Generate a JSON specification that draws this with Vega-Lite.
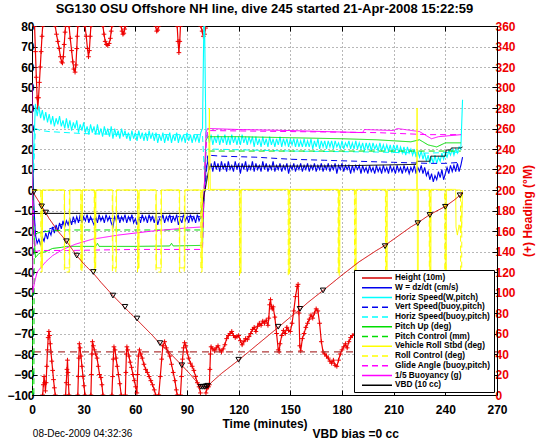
{
"$schema":"https://vega.github.io/schema/vega-lite/v6.json",
"width":465,"height":369,
"autosize":{"type":"none"},
"padding":{"left":32,"top":26,"right":49,"bottom":47},
"background":"white",
"title":{"text":"SG130 OSU Offshore NH line, dive 245 started 21-Apr-2008 15:22:59","font":"Liberation Sans","fontSize":13,"fontWeight":"bold","color":"black","anchor":"middle","offset":4},
"config":{"font":"Liberation Sans","view":{"stroke":"black","strokeWidth":1},
 "axis":{"labelFont":"Liberation Sans","labelFontSize":12,"labelFontWeight":"bold","labelColor":"black","titleFont":"Liberation Sans","titleFontSize":12,"titleFontWeight":"bold","titleColor":"black","tickColor":"black","domainColor":"black","gridColor":"#333333","gridDash":[1,3],"gridOpacity":0.7,"labelFlush":false,"labelOverlap":false}},
"datasets":{
"noisy":[
{"t":0,"W":34,"HW":0},{"t":1,"W":-6,"HW":20},{"t":2,"W":-22,"HW":42},{"t":3,"W":-26,"HW":36},{"t":4,"W":-24,"HW":41},{"t":5,"W":-27,"HW":35},{"t":6,"W":-23,"HW":39},{"t":7,"W":-25,"HW":34},{"t":8,"W":-21,"HW":38},{"t":9,"W":-24,"HW":33},
{"t":10,"W":-20,"HW":37},{"t":11,"W":-22,"HW":32},{"t":12,"W":-18,"HW":36},{"t":13,"W":-21,"HW":31},{"t":14,"W":-17,"HW":35},{"t":15,"W":-20,"HW":32},{"t":16,"W":-16,"HW":36},{"t":17,"W":-19,"HW":31},{"t":18,"W":-15,"HW":34},{"t":19,"W":-18,"HW":30},
{"t":20,"W":-15,"HW":35},{"t":21,"W":-17,"HW":30},{"t":22,"W":-14,"HW":34},{"t":23,"W":-17,"HW":29},{"t":24,"W":-13,"HW":33},{"t":25,"W":-16,"HW":30},{"t":26,"W":-13,"HW":34},{"t":27,"W":-16,"HW":28},{"t":28,"W":-12,"HW":32},{"t":29,"W":-16,"HW":29},
{"t":30,"W":-13,"HW":33},{"t":31,"W":-15,"HW":28},{"t":32,"W":-12,"HW":31},{"t":33,"W":-16,"HW":27},{"t":34,"W":-13,"HW":32},{"t":35,"W":-15,"HW":28},{"t":36,"W":-17,"HW":31},{"t":37,"W":-13,"HW":27},{"t":38,"W":-16,"HW":32},{"t":39,"W":-12,"HW":27},
{"t":40,"W":-15,"HW":30},{"t":41,"W":-13,"HW":26},{"t":42,"W":-16,"HW":31},{"t":43,"W":-12,"HW":27},{"t":44,"W":-15,"HW":30},{"t":45,"W":-13,"HW":26},{"t":46,"W":-16,"HW":31},{"t":47,"W":-18,"HW":25},{"t":48,"W":-13,"HW":30},{"t":49,"W":-15,"HW":26},
{"t":50,"W":-12,"HW":29},{"t":51,"W":-16,"HW":25},{"t":52,"W":-13,"HW":30},{"t":53,"W":-15,"HW":26},{"t":54,"W":-12,"HW":29},{"t":55,"W":-16,"HW":25},{"t":56,"W":-13,"HW":28},{"t":57,"W":-15,"HW":24},{"t":58,"W":-12,"HW":29},{"t":59,"W":-16,"HW":25},
{"t":60,"W":-14,"HW":28},{"t":61,"W":-17,"HW":24},{"t":62,"W":-13,"HW":29},{"t":63,"W":-16,"HW":25},{"t":64,"W":-12,"HW":28},{"t":65,"W":-15,"HW":24},{"t":66,"W":-13,"HW":28},{"t":67,"W":-16,"HW":24},{"t":68,"W":-12,"HW":29},{"t":69,"W":-15,"HW":25},
{"t":70,"W":-13,"HW":28},{"t":71,"W":-16,"HW":24},{"t":72,"W":-12,"HW":28},{"t":73,"W":-17,"HW":23},{"t":74,"W":-14,"HW":27},{"t":75,"W":-15,"HW":24},{"t":76,"W":-12,"HW":28},{"t":77,"W":-16,"HW":23},{"t":78,"W":-13,"HW":27},{"t":79,"W":-15,"HW":24},
{"t":80,"W":-12,"HW":28},{"t":81,"W":-16,"HW":23},{"t":82,"W":-13,"HW":27},{"t":83,"W":-15,"HW":24},{"t":84,"W":-12,"HW":28},{"t":85,"W":-17,"HW":23},{"t":86,"W":-14,"HW":27},{"t":87,"W":-16,"HW":24},{"t":88,"W":-12,"HW":27},{"t":89,"W":-15,"HW":23},
{"t":90,"W":-13,"HW":28},{"t":91,"W":-16,"HW":24},{"t":92,"W":-12,"HW":27},{"t":93,"W":-15,"HW":23},{"t":94,"W":-13,"HW":27},{"t":95,"W":-16,"HW":24},{"t":96,"W":-12,"HW":27},{"t":97,"W":-15,"HW":23},{"t":98,"W":-13,"HW":28},{"t":99,"W":-14,"HW":30},
{"t":100,"W":-2,"HW":95},{"t":101,"W":10,"HW":26},{"t":102,"W":14,"HW":27},{"t":103,"W":10,"HW":23},{"t":104,"W":13,"HW":27},{"t":105,"W":9,"HW":22},{"t":106,"W":14,"HW":26},{"t":107,"W":10,"HW":23},{"t":108,"W":13,"HW":27},{"t":109,"W":9,"HW":22},
{"t":110,"W":14,"HW":26},{"t":111,"W":10,"HW":23},{"t":112,"W":13,"HW":27},{"t":113,"W":9,"HW":22},{"t":114,"W":14,"HW":26},{"t":115,"W":10,"HW":22},{"t":116,"W":12,"HW":27},{"t":117,"W":9,"HW":23},{"t":118,"W":14,"HW":26},{"t":119,"W":10,"HW":22},
{"t":120,"W":13,"HW":26},{"t":121,"W":8,"HW":22},{"t":122,"W":13,"HW":27},{"t":123,"W":10,"HW":23},{"t":124,"W":14,"HW":26},{"t":125,"W":9,"HW":22},{"t":126,"W":12,"HW":26},{"t":127,"W":10,"HW":23},{"t":128,"W":14,"HW":26},{"t":129,"W":9,"HW":21},
{"t":130,"W":13,"HW":26},{"t":131,"W":10,"HW":22},{"t":132,"W":12,"HW":25},{"t":133,"W":9,"HW":21},{"t":134,"W":14,"HW":26},{"t":135,"W":10,"HW":22},{"t":136,"W":13,"HW":25},{"t":137,"W":9,"HW":21},{"t":138,"W":12,"HW":26},{"t":139,"W":10,"HW":22},
{"t":140,"W":14,"HW":25},{"t":141,"W":9,"HW":21},{"t":142,"W":12,"HW":25},{"t":143,"W":10,"HW":22},{"t":144,"W":13,"HW":26},{"t":145,"W":9,"HW":21},{"t":146,"W":12,"HW":25},{"t":147,"W":10,"HW":22},{"t":148,"W":13,"HW":25},{"t":149,"W":8,"HW":21},
{"t":150,"W":12,"HW":25},{"t":151,"W":10,"HW":22},{"t":152,"W":13,"HW":25},{"t":153,"W":9,"HW":21},{"t":154,"W":12,"HW":25},{"t":155,"W":10,"HW":21},{"t":156,"W":13,"HW":24},{"t":157,"W":9,"HW":21},{"t":158,"W":12,"HW":25},{"t":159,"W":10,"HW":21},
{"t":160,"W":13,"HW":24},{"t":161,"W":9,"HW":21},{"t":162,"W":12,"HW":25},{"t":163,"W":10,"HW":20},{"t":164,"W":13,"HW":24},{"t":165,"W":9,"HW":21},{"t":166,"W":12,"HW":25},{"t":167,"W":10,"HW":20},{"t":168,"W":13,"HW":24},{"t":169,"W":9,"HW":21},
{"t":170,"W":12,"HW":24},{"t":171,"W":10,"HW":20},{"t":172,"W":13,"HW":24},{"t":173,"W":9,"HW":21},{"t":174,"W":12,"HW":24},{"t":175,"W":10,"HW":20},{"t":176,"W":13,"HW":24},{"t":177,"W":8,"HW":21},{"t":178,"W":12,"HW":23},{"t":179,"W":10,"HW":20},
{"t":180,"W":13,"HW":24},{"t":181,"W":9,"HW":20},{"t":182,"W":12,"HW":23},{"t":183,"W":10,"HW":21},{"t":184,"W":12,"HW":24},{"t":185,"W":8,"HW":20},{"t":186,"W":12,"HW":23},{"t":187,"W":9,"HW":20},{"t":188,"W":12,"HW":24},{"t":189,"W":10,"HW":20},
{"t":190,"W":12,"HW":23},{"t":191,"W":8,"HW":20},{"t":192,"W":12,"HW":23},{"t":193,"W":9,"HW":19},{"t":194,"W":11,"HW":23},{"t":195,"W":8,"HW":20},{"t":196,"W":12,"HW":23},{"t":197,"W":9,"HW":19},{"t":198,"W":11,"HW":23},{"t":199,"W":8,"HW":20},
{"t":200,"W":12,"HW":22},{"t":201,"W":9,"HW":19},{"t":202,"W":11,"HW":23},{"t":203,"W":8,"HW":19},{"t":204,"W":12,"HW":22},{"t":205,"W":9,"HW":19},{"t":206,"W":11,"HW":22},{"t":207,"W":8,"HW":19},{"t":208,"W":12,"HW":22},{"t":209,"W":9,"HW":18},
{"t":210,"W":11,"HW":22},{"t":211,"W":8,"HW":19},{"t":212,"W":12,"HW":22},{"t":213,"W":9,"HW":18},{"t":214,"W":11,"HW":21},{"t":215,"W":8,"HW":18},{"t":216,"W":12,"HW":21},{"t":217,"W":9,"HW":17},{"t":218,"W":11,"HW":21},{"t":219,"W":8,"HW":18},
{"t":220,"W":11,"HW":20},{"t":221,"W":9,"HW":17},{"t":222,"W":12,"HW":20},{"t":223,"W":8,"HW":16},{"t":224,"W":11,"HW":19},{"t":225,"W":9,"HW":16},{"t":226,"W":12,"HW":19},{"t":227,"W":8,"HW":15},{"t":228,"W":11,"HW":18},{"t":229,"W":7,"HW":14},
{"t":230,"W":9,"HW":17},{"t":231,"W":5,"HW":13},{"t":232,"W":8,"HW":16},{"t":233,"W":4,"HW":13},{"t":234,"W":7,"HW":17},{"t":235,"W":5,"HW":13},{"t":236,"W":9,"HW":16},{"t":237,"W":6,"HW":14},{"t":238,"W":10,"HW":18},{"t":239,"W":5,"HW":15},
{"t":240,"W":8,"HW":18},{"t":241,"W":11,"HW":16},{"t":242,"W":8,"HW":19},{"t":243,"W":12,"HW":17},{"t":244,"W":9,"HW":20},{"t":245,"W":12,"HW":17},{"t":246,"W":9,"HW":20},{"t":247,"W":13,"HW":18},{"t":248,"W":9,"HW":21},{"t":249,"W":12,"HW":20},
{"t":250,"W":16,"HW":44}
],
"smooth":[
{"s":"VB","t":0.5,"v":-5},{"s":"VB","t":2,"v":-22},{"s":"VB","t":5,"v":-21},{"s":"VB","t":10,"v":-19},{"s":"VB","t":15,"v":-17.5},{"s":"VB","t":20,"v":-16},{"s":"VB","t":30,"v":-14.5},{"s":"VB","t":40,"v":-14},{"s":"VB","t":60,"v":-13.5},{"s":"VB","t":80,"v":-13},{"s":"VB","t":99,"v":-13},{"s":"VB","t":101,"v":5},{"s":"VB","t":102,"v":17},{"s":"VB","t":110,"v":16.5},{"s":"VB","t":130,"v":16},{"s":"VB","t":150,"v":15},{"s":"VB","t":170,"v":14.5},{"s":"VB","t":190,"v":14},{"s":"VB","t":210,"v":13.5},{"s":"VB","t":230,"v":13},{"s":"VB","t":240,"v":13},{"s":"VB","t":249,"v":13.5},
{"s":"HB","t":1,"v":10},{"s":"HB","t":2,"v":30},{"s":"HB","t":5,"v":29},{"s":"HB","t":10,"v":28.5},{"s":"HB","t":30,"v":27.5},{"s":"HB","t":60,"v":27},{"s":"HB","t":99,"v":27},{"s":"HB","t":100,"v":10},{"s":"HB","t":101,"v":19},{"s":"HB","t":102,"v":20},{"s":"HB","t":150,"v":19},{"s":"HB","t":200,"v":18.5},{"s":"HB","t":230,"v":18},{"s":"HB","t":249,"v":18.5},
{"s":"P","t":0,"v":38},{"s":"P","t":0.5,"v":0},{"s":"P","t":1,"v":-20},{"s":"P","t":2,"v":-33},{"s":"P","t":4,"v":-31},{"s":"P","t":8,"v":-30},{"s":"P","t":12,"v":-28.5},{"s":"P","t":17,"v":-28},{"s":"P","t":20,"v":-27.5},{"s":"P","t":37,"v":-27.5},{"s":"P","t":38,"v":-26},{"s":"P","t":39,"v":-27.5},{"s":"P","t":60,"v":-27.5},{"s":"P","t":80,"v":-27.3},{"s":"P","t":81,"v":-26},{"s":"P","t":82,"v":-27.3},{"s":"P","t":99,"v":-27},{"s":"P","t":100,"v":0},{"s":"P","t":101,"v":24},{"s":"P","t":102,"v":26},{"s":"P","t":120,"v":26},{"s":"P","t":150,"v":25.5},{"s":"P","t":180,"v":25},{"s":"P","t":200,"v":24.5},{"s":"P","t":220,"v":23.5},{"s":"P","t":225,"v":24.5},{"s":"P","t":230,"v":22},{"s":"P","t":235,"v":21},{"s":"P","t":240,"v":23},{"s":"P","t":249,"v":23},
{"s":"PC","t":0,"v":0},{"s":"PC","t":0.3,"v":-130},{"s":"PC","t":1,"v":-130},{"s":"PC","t":1.3,"v":-22},{"s":"PC","t":3,"v":-21},{"s":"PC","t":10,"v":-20},{"s":"PC","t":20,"v":-19.5},{"s":"PC","t":99,"v":-19.5},{"s":"PC","t":100,"v":0},{"s":"PC","t":101,"v":19},{"s":"PC","t":249,"v":19},
{"s":"GA","t":0.5,"v":-5},{"s":"GA","t":2,"v":-30},{"s":"GA","t":5,"v":-29.5},{"s":"GA","t":20,"v":-29.5},{"s":"GA","t":60,"v":-29},{"s":"GA","t":99,"v":-29},{"s":"GA","t":100,"v":0},{"s":"GA","t":101,"v":20},{"s":"GA","t":102,"v":29},{"s":"GA","t":150,"v":28.5},{"s":"GA","t":200,"v":28},{"s":"GA","t":230,"v":27},{"s":"GA","t":249,"v":27},
{"s":"B","t":0,"v":52},{"s":"B","t":0.5,"v":-50},{"s":"B","t":1.5,"v":-45},{"s":"B","t":3,"v":-40},{"s":"B","t":5,"v":-38},{"s":"B","t":8,"v":-35},{"s":"B","t":12,"v":-32},{"s":"B","t":18,"v":-29},{"s":"B","t":25,"v":-26.5},{"s":"B","t":35,"v":-24},{"s":"B","t":50,"v":-22},{"s":"B","t":70,"v":-20},{"s":"B","t":90,"v":-18.5},{"s":"B","t":99,"v":-18},{"s":"B","t":100,"v":0},{"s":"B","t":101,"v":28},{"s":"B","t":102,"v":30},{"s":"B","t":120,"v":29.5},{"s":"B","t":150,"v":29},{"s":"B","t":170,"v":28.5},{"s":"B","t":192,"v":28},{"s":"B","t":193,"v":29.5},{"s":"B","t":210,"v":29},{"s":"B","t":212,"v":30},{"s":"B","t":225,"v":28.5},{"s":"B","t":232,"v":25},{"s":"B","t":236,"v":26},{"s":"B","t":249,"v":27},
{"s":"V","t":0,"v":-11.4},{"s":"V","t":98,"v":-11.4},{"s":"V","t":103,"v":11.5},{"s":"V","t":173,"v":11.7},{"s":"V","t":223,"v":12.5},{"s":"V","t":223.5,"v":14},{"s":"V","t":231,"v":14},{"s":"V","t":231.5,"v":16.5},{"s":"V","t":240,"v":16.5},{"s":"V","t":240.5,"v":19.5},{"s":"V","t":243,"v":19.5},{"s":"V","t":243.5,"v":20.5},{"s":"V","t":249,"v":20.5},{"s":"V","t":250,"v":21},
{"s":"R","t":0,"v":0},{"s":"R","t":5.3,"v":0},{"s":"R","t":5.4,"v":-38},{"s":"R","t":6,"v":-38},{"s":"R","t":6.1,"v":0},{"s":"R","t":18.9,"v":0},{"s":"R","t":19,"v":-38},{"s":"R","t":21.9,"v":-38},{"s":"R","t":22,"v":0},{"s":"R","t":28.5,"v":0},{"s":"R","t":28.6,"v":-38},{"s":"R","t":29.2,"v":-38},{"s":"R","t":29.3,"v":0},{"s":"R","t":36.3,"v":0},{"s":"R","t":36.4,"v":-38},{"s":"R","t":37,"v":-38},{"s":"R","t":37.1,"v":0},{"s":"R","t":46.9,"v":0},{"s":"R","t":47,"v":-38},{"s":"R","t":49,"v":-38},{"s":"R","t":49.1,"v":0},{"s":"R","t":61.4,"v":0},{"s":"R","t":61.5,"v":-38},{"s":"R","t":62.1,"v":-38},{"s":"R","t":62.2,"v":0},{"s":"R","t":72.1,"v":0},{"s":"R","t":72.2,"v":-38},{"s":"R","t":75.1,"v":-38},{"s":"R","t":75.2,"v":0},{"s":"R","t":85.7,"v":0},{"s":"R","t":85.8,"v":-38},{"s":"R","t":88.7,"v":-38},{"s":"R","t":88.8,"v":0},{"s":"R","t":98.2,"v":0},{"s":"R","t":98.3,"v":-38},{"s":"R","t":98.9,"v":-38},{"s":"R","t":99,"v":0},{"s":"R","t":102.5,"v":0.3},{"s":"R","t":103,"v":40},{"s":"R","t":103.5,"v":0.3},{"s":"R","t":120.7,"v":0.3},{"s":"R","t":120.8,"v":-40},{"s":"R","t":121.4,"v":-40},{"s":"R","t":121.5,"v":0.3},{"s":"R","t":149,"v":0.3},{"s":"R","t":149.1,"v":-40},{"s":"R","t":149.7,"v":-40},{"s":"R","t":149.8,"v":0.3},{"s":"R","t":178,"v":0.3},{"s":"R","t":178.1,"v":-40},{"s":"R","t":178.7,"v":-40},{"s":"R","t":178.8,"v":0.3},{"s":"R","t":187.5,"v":0.3},{"s":"R","t":187.6,"v":-40},{"s":"R","t":188.2,"v":-40},{"s":"R","t":188.3,"v":0.3},{"s":"R","t":205.5,"v":0.3},{"s":"R","t":205.6,"v":-40},{"s":"R","t":206.2,"v":-40},{"s":"R","t":206.3,"v":0.3},{"s":"R","t":223.4,"v":0.3},{"s":"R","t":223.6,"v":40},{"s":"R","t":223.8,"v":-40},{"s":"R","t":224.3,"v":-40},{"s":"R","t":224.4,"v":0.3},{"s":"R","t":230.9,"v":0.3},{"s":"R","t":231,"v":-40},{"s":"R","t":231.6,"v":-40},{"s":"R","t":231.7,"v":0.3},{"s":"R","t":239.9,"v":0.3},{"s":"R","t":240,"v":-40},{"s":"R","t":240.6,"v":-40},{"s":"R","t":240.7,"v":0.3},{"s":"R","t":246,"v":0.3},{"s":"R","t":246.2,"v":-18},{"s":"R","t":247,"v":-22},{"s":"R","t":248,"v":-17},{"s":"R","t":249,"v":-21},{"s":"R","t":249.5,"v":-16},{"s":"R","t":250,"v":0},
{"s":"RC","t":0,"v":0},{"s":"RC","t":5.1,"v":0},{"s":"RC","t":5.2,"v":-40},{"s":"RC","t":5.8,"v":-40},{"s":"RC","t":5.9,"v":0},{"s":"RC","t":18.7,"v":0},{"s":"RC","t":18.8,"v":-40},{"s":"RC","t":21.6,"v":-40},{"s":"RC","t":21.7,"v":0},{"s":"RC","t":28.3,"v":0},{"s":"RC","t":28.4,"v":-40},{"s":"RC","t":29,"v":-40},{"s":"RC","t":29.1,"v":0},{"s":"RC","t":36.1,"v":0},{"s":"RC","t":36.2,"v":-40},{"s":"RC","t":36.8,"v":-40},{"s":"RC","t":36.9,"v":0},{"s":"RC","t":46.6,"v":0},{"s":"RC","t":46.7,"v":-40},{"s":"RC","t":48.7,"v":-40},{"s":"RC","t":48.8,"v":0},{"s":"RC","t":61.2,"v":0},{"s":"RC","t":61.3,"v":-40},{"s":"RC","t":61.9,"v":-40},{"s":"RC","t":62,"v":0},{"s":"RC","t":71.9,"v":0},{"s":"RC","t":72,"v":-40},{"s":"RC","t":74.8,"v":-40},{"s":"RC","t":74.9,"v":0},{"s":"RC","t":85.5,"v":0},{"s":"RC","t":85.6,"v":-40},{"s":"RC","t":88.4,"v":-40},{"s":"RC","t":88.5,"v":0},{"s":"RC","t":98,"v":0},{"s":"RC","t":98.1,"v":-40},{"s":"RC","t":98.7,"v":-40},{"s":"RC","t":98.8,"v":0},{"s":"RC","t":120.4,"v":0},{"s":"RC","t":120.5,"v":-42},{"s":"RC","t":121.1,"v":-42},{"s":"RC","t":121.2,"v":0},{"s":"RC","t":148.7,"v":0},{"s":"RC","t":148.8,"v":-42},{"s":"RC","t":149.4,"v":-42},{"s":"RC","t":149.5,"v":0},{"s":"RC","t":177.7,"v":0},{"s":"RC","t":177.8,"v":-42},{"s":"RC","t":178.4,"v":-42},{"s":"RC","t":178.5,"v":0},{"s":"RC","t":187.2,"v":0},{"s":"RC","t":187.3,"v":-42},{"s":"RC","t":187.9,"v":-42},{"s":"RC","t":188,"v":0},{"s":"RC","t":205.2,"v":0},{"s":"RC","t":205.3,"v":-42},{"s":"RC","t":205.9,"v":-42},{"s":"RC","t":206,"v":0},{"s":"RC","t":230.6,"v":0},{"s":"RC","t":230.7,"v":-42},{"s":"RC","t":231.3,"v":-42},{"s":"RC","t":231.4,"v":0},{"s":"RC","t":239.6,"v":0},{"s":"RC","t":239.7,"v":-42},{"s":"RC","t":240.3,"v":-42},{"s":"RC","t":240.4,"v":0},{"s":"RC","t":248.8,"v":0},{"s":"RC","t":248.9,"v":-42},{"s":"RC","t":249.5,"v":-42},{"s":"RC","t":249.6,"v":0},
{"s":"H","t":0,"v":0},{"s":"H","t":2,"v":-3},{"s":"H","t":5,"v":-7},{"s":"H","t":10,"v":-14},{"s":"H","t":15,"v":-20},{"s":"H","t":20,"v":-25},{"s":"H","t":26,"v":-32},{"s":"H","t":30,"v":-36},{"s":"H","t":36,"v":-41},{"s":"H","t":40,"v":-45},{"s":"H","t":47,"v":-51.5},{"s":"H","t":54,"v":-57.5},{"s":"H","t":60,"v":-62.5},{"s":"H","t":70,"v":-71},{"s":"H","t":74,"v":-74.7},{"s":"H","t":80,"v":-79.5},{"s":"H","t":87,"v":-85.5},{"s":"H","t":92,"v":-90},{"s":"H","t":96,"v":-94},{"s":"H","t":98,"v":-95.5},{"s":"H","t":100,"v":-96},{"s":"H","t":102,"v":-95.8},{"s":"H","t":104,"v":-94},{"s":"H","t":110,"v":-89.5},{"s":"H","t":120,"v":-83},{"s":"H","t":130,"v":-76},{"s":"H","t":143,"v":-67},{"s":"H","t":150,"v":-62},{"s":"H","t":156,"v":-58},{"s":"H","t":160,"v":-55},{"s":"H","t":169,"v":-49},{"s":"H","t":180,"v":-41.5},{"s":"H","t":190,"v":-35},{"s":"H","t":200,"v":-29.5},{"s":"H","t":205,"v":-27},{"s":"H","t":210,"v":-24},{"s":"H","t":220,"v":-18},{"s":"H","t":224,"v":-16},{"s":"H","t":231,"v":-12},{"s":"H","t":240,"v":-8},{"s":"H","t":245,"v":-5},{"s":"H","t":248.5,"v":-2.6},{"s":"H","t":250,"v":-1}
],
"marks":[
{"t":1,"d":-1},{"t":5.6,"d":-8},{"t":8,"d":-11},{"t":20,"d":-25},{"t":26,"d":-32},{"t":35.6,"d":-40},{"t":47,"d":-51.5},{"t":54,"d":-57},{"t":61,"d":-62.7},{"t":74.3,"d":-74.7},{"t":87,"d":-85.5},{"t":98,"d":-96},{"t":99,"d":-96},{"t":100,"d":-96},{"t":101,"d":-95.8},{"t":102,"d":-95.5},{"t":120,"d":-82.8},{"t":143,"d":-66.7},{"t":155.6,"d":-58},{"t":169,"d":-49},{"t":205,"d":-27.4},{"t":224,"d":-16.2},{"t":231,"d":-12.2},{"t":240,"d":-8.2},{"t":248.5,"d":-2.6}
],
"heading":[
{"g":1,"t":1.5,"h":360},{"g":1,"t":2,"h":335},{"g":1,"t":2.5,"h":310},{"g":1,"t":3,"h":290},{"g":1,"t":3.4,"h":280},{"g":1,"t":3.8,"h":290},{"g":1,"t":4.3,"h":305},{"g":1,"t":4.8,"h":320},{"g":1,"t":5.3,"h":335},{"g":1,"t":5.8,"h":350},{"g":1,"t":6.2,"h":360},
{"g":2,"t":6.2,"h":0},{"g":2,"t":6.6,"h":10},{"g":2,"t":7,"h":18},{"g":2,"t":7.4,"h":12},{"g":2,"t":7.8,"h":4},{"g":2,"t":8.2,"h":12},{"g":2,"t":8.6,"h":28},{"g":2,"t":9,"h":44},{"g":2,"t":9.4,"h":56},{"g":2,"t":9.8,"h":62},{"g":2,"t":10.2,"h":58},{"g":2,"t":10.6,"h":50},{"g":2,"t":11,"h":42},{"g":2,"t":11.5,"h":33},{"g":2,"t":12,"h":24},{"g":2,"t":12.5,"h":15},{"g":2,"t":13,"h":7},{"g":2,"t":13.5,"h":0},
{"g":3,"t":13.5,"h":360},{"g":3,"t":14.2,"h":352},{"g":3,"t":15,"h":345},{"g":3,"t":15.8,"h":338},{"g":3,"t":16.5,"h":330},{"g":3,"t":17.2,"h":325},{"g":3,"t":17.7,"h":324},{"g":3,"t":18.2,"h":330},{"g":3,"t":18.7,"h":342},{"g":3,"t":19.2,"h":354},{"g":3,"t":19.5,"h":360},
{"g":4,"t":19.5,"h":0},{"g":4,"t":19.9,"h":12},{"g":4,"t":20.3,"h":25},{"g":4,"t":20.6,"h":34},{"g":4,"t":20.9,"h":22},{"g":4,"t":21.2,"h":10},{"g":4,"t":21.5,"h":0},
{"g":5,"t":21.5,"h":360},{"g":5,"t":22.2,"h":348},{"g":5,"t":23,"h":336},{"g":5,"t":23.7,"h":325},{"g":5,"t":24.3,"h":318},{"g":5,"t":25,"h":315},{"g":5,"t":25.5,"h":322},{"g":5,"t":26,"h":338},{"g":5,"t":26.3,"h":350},{"g":5,"t":26.6,"h":360},
{"g":6,"t":26.6,"h":0},{"g":6,"t":26.9,"h":18},{"g":6,"t":27.2,"h":36},{"g":6,"t":27.5,"h":50},{"g":6,"t":27.9,"h":46},{"g":6,"t":28.4,"h":38},{"g":6,"t":29,"h":28},{"g":6,"t":29.6,"h":18},{"g":6,"t":30.2,"h":9},{"g":6,"t":30.8,"h":0},
{"g":7,"t":30.8,"h":360},{"g":7,"t":31.5,"h":350},{"g":7,"t":32.2,"h":338},{"g":7,"t":32.8,"h":330},{"g":7,"t":33.3,"h":336},{"g":7,"t":33.8,"h":350},{"g":7,"t":34.2,"h":360},
{"g":8,"t":34.2,"h":0},{"g":8,"t":34.5,"h":20},{"g":8,"t":34.8,"h":40},{"g":8,"t":35.1,"h":52},{"g":8,"t":35.6,"h":48},{"g":8,"t":36.2,"h":44},{"g":8,"t":37,"h":40},{"g":8,"t":37.8,"h":36},{"g":8,"t":38.5,"h":28},{"g":8,"t":39.2,"h":20},{"g":8,"t":40,"h":17},{"g":8,"t":40.6,"h":10},{"g":8,"t":41.2,"h":0},
{"g":9,"t":41.2,"h":360},{"g":9,"t":41.8,"h":352},{"g":9,"t":42.5,"h":345},{"g":9,"t":43.2,"h":342},{"g":9,"t":44,"h":341},{"g":9,"t":44.8,"h":343},{"g":9,"t":45.5,"h":348},{"g":9,"t":46,"h":355},{"g":9,"t":46.4,"h":360},
{"g":10,"t":46.4,"h":0},{"g":10,"t":46.8,"h":18},{"g":10,"t":47.2,"h":35},{"g":10,"t":47.6,"h":47},{"g":10,"t":48.2,"h":44},{"g":10,"t":48.8,"h":36},{"g":10,"t":49.5,"h":28},{"g":10,"t":50.2,"h":20},{"g":10,"t":51,"h":11},{"g":10,"t":51.8,"h":0},
{"g":11,"t":51.8,"h":360},{"g":11,"t":52.3,"h":355},{"g":11,"t":52.8,"h":352},{"g":11,"t":53.3,"h":353},{"g":11,"t":53.8,"h":357},{"g":11,"t":54.2,"h":360},
{"g":12,"t":54.2,"h":0},{"g":12,"t":54.5,"h":22},{"g":12,"t":54.8,"h":40},{"g":12,"t":55.1,"h":47},{"g":12,"t":55.6,"h":44},{"g":12,"t":56.3,"h":38},{"g":12,"t":57,"h":32},{"g":12,"t":57.8,"h":27},{"g":12,"t":58.6,"h":20},{"g":12,"t":59.4,"h":14},{"g":12,"t":60.2,"h":8},{"g":12,"t":60.9,"h":2},{"g":12,"t":61.3,"h":20},{"g":12,"t":61.8,"h":38},{"g":12,"t":62.4,"h":44},{"g":12,"t":63.2,"h":40},{"g":12,"t":64,"h":36},{"g":12,"t":65,"h":30},{"g":12,"t":66,"h":25},{"g":12,"t":67,"h":22},{"g":12,"t":68,"h":18},{"g":12,"t":69,"h":14},{"g":12,"t":70,"h":10},{"g":12,"t":71,"h":5},{"g":12,"t":71.8,"h":0},
{"g":13,"t":71.8,"h":360},{"g":13,"t":72.4,"h":355},{"g":13,"t":73,"h":356},{"g":13,"t":73.6,"h":360},
{"g":14,"t":73.6,"h":0},{"g":14,"t":74.5,"h":18},{"g":14,"t":75.3,"h":35},{"g":14,"t":76,"h":48},{"g":14,"t":77,"h":52},{"g":14,"t":78,"h":46},{"g":14,"t":79,"h":42},{"g":14,"t":80,"h":38},{"g":14,"t":81,"h":30},{"g":14,"t":82,"h":22},{"g":14,"t":83,"h":14},{"g":14,"t":83.8,"h":5},{"g":14,"t":84.3,"h":0},
{"g":15,"t":84.3,"h":360},{"g":15,"t":84.8,"h":345},{"g":15,"t":85.3,"h":334},{"g":15,"t":85.8,"h":345},{"g":15,"t":86.2,"h":360},
{"g":16,"t":86.2,"h":0},{"g":16,"t":86.8,"h":18},{"g":16,"t":87.4,"h":35},{"g":16,"t":88,"h":46},{"g":16,"t":88.6,"h":51},{"g":16,"t":89.3,"h":48},{"g":16,"t":90,"h":42},{"g":16,"t":91,"h":36},{"g":16,"t":92,"h":31},{"g":16,"t":93,"h":28},{"g":16,"t":94,"h":24},{"g":16,"t":95,"h":18},{"g":16,"t":96,"h":12},{"g":16,"t":97,"h":8},{"g":16,"t":97.8,"h":2},
{"g":17,"t":98,"h":360},{"g":17,"t":98.8,"h":355},{"g":17,"t":99.5,"h":350},{"g":17,"t":100.2,"h":352},{"g":17,"t":100.8,"h":358},
{"g":18,"t":101,"h":2},{"g":18,"t":101.5,"h":6},{"g":18,"t":102,"h":8},{"g":18,"t":102.5,"h":8},{"g":18,"t":103,"h":10},{"g":18,"t":103.3,"h":25},{"g":18,"t":103.6,"h":40},{"g":18,"t":104,"h":47},{"g":18,"t":105,"h":45},{"g":18,"t":106,"h":43},{"g":18,"t":107,"h":46},{"g":18,"t":108,"h":48},{"g":18,"t":109,"h":44},{"g":18,"t":110,"h":42},{"g":18,"t":111,"h":45},{"g":18,"t":112,"h":49},{"g":18,"t":113,"h":55},{"g":18,"t":114,"h":58},{"g":18,"t":115,"h":60},{"g":18,"t":116,"h":62},{"g":18,"t":117,"h":58},{"g":18,"t":118,"h":56},{"g":18,"t":119,"h":57},{"g":18,"t":120,"h":58},{"g":18,"t":121,"h":53},{"g":18,"t":122,"h":49},{"g":18,"t":123,"h":52},{"g":18,"t":124,"h":55},{"g":18,"t":125,"h":54},{"g":18,"t":126,"h":57},{"g":18,"t":127,"h":60},{"g":18,"t":128,"h":64},{"g":18,"t":129,"h":66},{"g":18,"t":130,"h":62},{"g":18,"t":131,"h":67},{"g":18,"t":132,"h":70},{"g":18,"t":133,"h":68},{"g":18,"t":134,"h":72},{"g":18,"t":135,"h":70},{"g":18,"t":136,"h":73},{"g":18,"t":137,"h":68},{"g":18,"t":137.5,"h":75},{"g":18,"t":138,"h":88},{"g":18,"t":138.5,"h":93},{"g":18,"t":139,"h":86},{"g":18,"t":139.5,"h":84},{"g":18,"t":140,"h":86},{"g":18,"t":141,"h":76},{"g":18,"t":142,"h":60},{"g":18,"t":143,"h":44},{"g":18,"t":143.5,"h":42},{"g":18,"t":144,"h":50},{"g":18,"t":145,"h":58},{"g":18,"t":146,"h":63},{"g":18,"t":147,"h":60},{"g":18,"t":148,"h":66},{"g":18,"t":149,"h":63},{"g":18,"t":150,"h":62},{"g":18,"t":151,"h":70},{"g":18,"t":152,"h":82},{"g":18,"t":153,"h":96},{"g":18,"t":154,"h":106},{"g":18,"t":154.5,"h":108},{"g":18,"t":155,"h":80},{"g":18,"t":155.5,"h":48},{"g":18,"t":156,"h":43},{"g":18,"t":157,"h":55},{"g":18,"t":158,"h":60},{"g":18,"t":159,"h":66},{"g":18,"t":160,"h":70},{"g":18,"t":161,"h":74},{"g":18,"t":162,"h":78},{"g":18,"t":163,"h":75},{"g":18,"t":164,"h":80},{"g":18,"t":165,"h":84},{"g":18,"t":166,"h":82},{"g":18,"t":167,"h":70},{"g":18,"t":168,"h":52},{"g":18,"t":169,"h":42},{"g":18,"t":170,"h":40},{"g":18,"t":171,"h":38},{"g":18,"t":172,"h":36},{"g":18,"t":173,"h":33},{"g":18,"t":174,"h":31},{"g":18,"t":175,"h":34},{"g":18,"t":176,"h":29},{"g":18,"t":177,"h":28},{"g":18,"t":178,"h":34},{"g":18,"t":179,"h":40},{"g":18,"t":180,"h":44},{"g":18,"t":181,"h":47},{"g":18,"t":182,"h":50},{"g":18,"t":183,"h":46},{"g":18,"t":184,"h":52},{"g":18,"t":185,"h":56},{"g":18,"t":186,"h":58},{"g":18,"t":188,"h":60},{"g":18,"t":190,"h":62},{"g":18,"t":195,"h":58},{"g":18,"t":200,"h":50},{"g":18,"t":205,"h":45},{"g":18,"t":210,"h":40},{"g":18,"t":215,"h":36},{"g":18,"t":220,"h":32},{"g":18,"t":225,"h":40},{"g":18,"t":230,"h":45},{"g":18,"t":235,"h":38},{"g":18,"t":240,"h":44},{"g":18,"t":245,"h":50},{"g":18,"t":250,"h":55}
]
},
"layer":[
  {"data":{"name":"heading"},"mark":{"type":"line","color":"#ee0000","strokeWidth":1.2,"clip":true},
   "encoding":{
    "x":{"field":"t","type":"quantitative","scale":{"domain":[0,270],"nice":false,"zero":false},"axis":{"orient":"top","values":[0,30,60,90,120,150,180,210,240,270],"labels":false,"title":null,"grid":false,"domain":true,"tickSize":-5}},
    "y":{"field":"h","type":"quantitative","scale":{"domain":[0,360],"nice":false,"zero":false},"axis":{"orient":"right","values":[0,20,40,60,80,100,120,140,160,180,200,220,240,260,280,300,320,340,360],"grid":false,"domain":true,"tickSize":-5,"labelPadding":3,"labelColor":"#ee0000","title":"(+) Heading (°M)","titleColor":"#ee0000","titleAngle":270,"titlePadding":19}},
    "detail":{"field":"g","type":"nominal"}}},
  {"data":{"name":"heading"},"mark":{"type":"point","shape":"M-1,0H1M0,-1V1","size":22,"filled":false,"color":"#ee0000","strokeWidth":1,"opacity":1,"clip":true},
   "encoding":{
    "x":{"field":"t","type":"quantitative","scale":{"domain":[0,270],"nice":false,"zero":false},"axis":null},
    "y":{"field":"h","type":"quantitative","scale":{"domain":[0,360],"nice":false,"zero":false},"axis":null}}},
  {"data":{"values":[{}]},"mark":{"type":"rule","color":"#b03a3a","strokeDash":[7,5],"strokeWidth":1.2},
   "encoding":{"y":{"datum":42,"type":"quantitative","scale":{"domain":[0,360],"nice":false,"zero":false},"axis":null}}},
  {"data":{"name":"noisy"},"transform":[{"fold":["W","HW"],"as":["s","v"]}],
   "mark":{"type":"line","strokeWidth":1.1,"clip":true},
   "encoding":{
    "x":{"field":"t","type":"quantitative","scale":{"domain":[0,270],"nice":false,"zero":false},"axis":{"orient":"bottom","values":[0,30,60,90,120,150,180,210,240,270],"grid":true,"domain":true,"tickSize":-5,"labelPadding":14,"title":"Time (minutes)","titlePadding":3}},
    "y":{"field":"v","type":"quantitative","scale":{"domain":[-100,80],"nice":false,"zero":false},"axis":{"orient":"left","values":[-100,-90,-80,-70,-60,-50,-40,-30,-20,-10,0,10,20,30,40,50,60,70,80],"grid":true,"domain":true,"tickSize":-5,"labelPadding":3,"title":null}},
    "color":{"field":"s","type":"nominal","scale":{"domain":["H","W","HW","VB","HB","P","PC","R","RC","GA","B","V"],"range":["#d40000","#0000ee","#00ffff","#0000ee","#00ffff","#00dd00","#00dd00","#ffff00","#ffff00","#ff00ff","#ff00ff","#000000"]},
     "legend":{"title":null,"orient":"bottom-right","offset":3,"fillColor":"white","strokeColor":"black","padding":3,"labelFont":"Liberation Sans","labelFontSize":8.3,"labelFontWeight":"bold","labelColor":"black","symbolType":"M-3.75,0H3.75","symbolSize":64,"symbolStrokeWidth":1.5,"symbolOffset":15,"labelOffset":13,"rowPadding":0.75,"labelLimit":200,"labelExpr":"{'H':'Height (10m)','W':'W = dz/dt (cm/s)','HW':'Horiz Speed(W,pitch)','VB':'Vert Speed(buoy,pitch)','HB':'Horiz Speed(buoy,pitch)','P':'Pitch Up (deg)','PC':'Pitch Control (mm)','R':'Vehicle Roll Stbd (deg)','RC':'Roll Control (deg)','GA':'Glide Angle (buoy,pitch)','B':'1/5 Buoyancy (g)','V':'VBD (10 cc)'}[datum.label]"}},
    "strokeDash":{"field":"s","type":"nominal","scale":{"domain":["H","W","HW","VB","HB","P","PC","R","RC","GA","B","V"],"range":[[1,0],[1,0],[1,0],[6,4],[6,4],[1,0],[6,4],[1,0],[6,4],[6,4],[1,0],[1,0]]},
     "legend":{"title":null,"orient":"bottom-right","offset":3,"fillColor":"white","strokeColor":"black","padding":3,"labelFont":"Liberation Sans","labelFontSize":8.3,"labelFontWeight":"bold","labelColor":"black","symbolType":"M-3.75,0H3.75","symbolSize":64,"symbolStrokeWidth":1.5,"symbolOffset":15,"labelOffset":13,"rowPadding":0.75,"labelLimit":200,"labelExpr":"{'H':'Height (10m)','W':'W = dz/dt (cm/s)','HW':'Horiz Speed(W,pitch)','VB':'Vert Speed(buoy,pitch)','HB':'Horiz Speed(buoy,pitch)','P':'Pitch Up (deg)','PC':'Pitch Control (mm)','R':'Vehicle Roll Stbd (deg)','RC':'Roll Control (deg)','GA':'Glide Angle (buoy,pitch)','B':'1/5 Buoyancy (g)','V':'VBD (10 cc)'}[datum.label]"}}}},
  {"data":{"name":"smooth"},
   "mark":{"type":"line","strokeWidth":1,"clip":true},
   "encoding":{
    "x":{"field":"t","type":"quantitative","scale":{"domain":[0,270],"nice":false,"zero":false},"axis":null},
    "y":{"field":"v","type":"quantitative","scale":{"domain":[-100,80],"nice":false,"zero":false},"axis":null},
    "color":{"field":"s","type":"nominal","scale":{"domain":["H","W","HW","VB","HB","P","PC","R","RC","GA","B","V"],"range":["#d40000","#0000ee","#00ffff","#0000ee","#00ffff","#00dd00","#00dd00","#ffff00","#ffff00","#ff00ff","#ff00ff","#000000"]},
     "legend":{"title":null,"orient":"bottom-right","offset":3,"fillColor":"white","strokeColor":"black","padding":3,"labelFont":"Liberation Sans","labelFontSize":8.3,"labelFontWeight":"bold","labelColor":"black","symbolType":"M-3.75,0H3.75","symbolSize":64,"symbolStrokeWidth":1.5,"symbolOffset":15,"labelOffset":13,"rowPadding":0.75,"labelLimit":200,"labelExpr":"{'H':'Height (10m)','W':'W = dz/dt (cm/s)','HW':'Horiz Speed(W,pitch)','VB':'Vert Speed(buoy,pitch)','HB':'Horiz Speed(buoy,pitch)','P':'Pitch Up (deg)','PC':'Pitch Control (mm)','R':'Vehicle Roll Stbd (deg)','RC':'Roll Control (deg)','GA':'Glide Angle (buoy,pitch)','B':'1/5 Buoyancy (g)','V':'VBD (10 cc)'}[datum.label]"}},
    "strokeDash":{"field":"s","type":"nominal","scale":{"domain":["H","W","HW","VB","HB","P","PC","R","RC","GA","B","V"],"range":[[1,0],[1,0],[1,0],[6,4],[6,4],[1,0],[6,4],[1,0],[6,4],[6,4],[1,0],[1,0]]},
     "legend":{"title":null,"orient":"bottom-right","offset":3,"fillColor":"white","strokeColor":"black","padding":3,"labelFont":"Liberation Sans","labelFontSize":8.3,"labelFontWeight":"bold","labelColor":"black","symbolType":"M-3.75,0H3.75","symbolSize":64,"symbolStrokeWidth":1.5,"symbolOffset":15,"labelOffset":13,"rowPadding":0.75,"labelLimit":200,"labelExpr":"{'H':'Height (10m)','W':'W = dz/dt (cm/s)','HW':'Horiz Speed(W,pitch)','VB':'Vert Speed(buoy,pitch)','HB':'Horiz Speed(buoy,pitch)','P':'Pitch Up (deg)','PC':'Pitch Control (mm)','R':'Vehicle Roll Stbd (deg)','RC':'Roll Control (deg)','GA':'Glide Angle (buoy,pitch)','B':'1/5 Buoyancy (g)','V':'VBD (10 cc)'}[datum.label]"}}}},
  {"data":{"name":"marks"},
   "mark":{"type":"point","shape":"triangle-down","size":30,"filled":false,"color":"black","strokeWidth":1,"opacity":1,"clip":true},
   "encoding":{
    "x":{"field":"t","type":"quantitative","scale":{"domain":[0,270],"nice":false,"zero":false},"axis":null},
    "y":{"field":"d","type":"quantitative","scale":{"domain":[-100,80],"nice":false,"zero":false},"axis":null}}},
  {"data":{"values":[{}]},
   "mark":{"type":"text","text":"08-Dec-2009 04:32:36","align":"left","baseline":"middle","font":"Liberation Sans","fontSize":10,"color":"black"},
   "encoding":{"x":{"datum":0.5,"type":"quantitative","scale":{"domain":[0,270],"nice":false,"zero":false},"axis":null},"y":{"datum":-119,"type":"quantitative","scale":{"domain":[-100,80],"nice":false,"zero":false},"axis":null}}},
  {"data":{"values":[{}]},
   "mark":{"type":"text","text":"VBD bias =0 cc","align":"center","baseline":"middle","font":"Liberation Sans","fontSize":12,"fontWeight":"bold","color":"black"},
   "encoding":{"x":{"datum":188,"type":"quantitative","scale":{"domain":[0,270],"nice":false,"zero":false},"axis":null},"y":{"datum":-119,"type":"quantitative","scale":{"domain":[-100,80],"nice":false,"zero":false},"axis":null}}}
],
"resolve":{"scale":{"y":"independent"},"axis":{"x":"independent","y":"independent"}}
}
